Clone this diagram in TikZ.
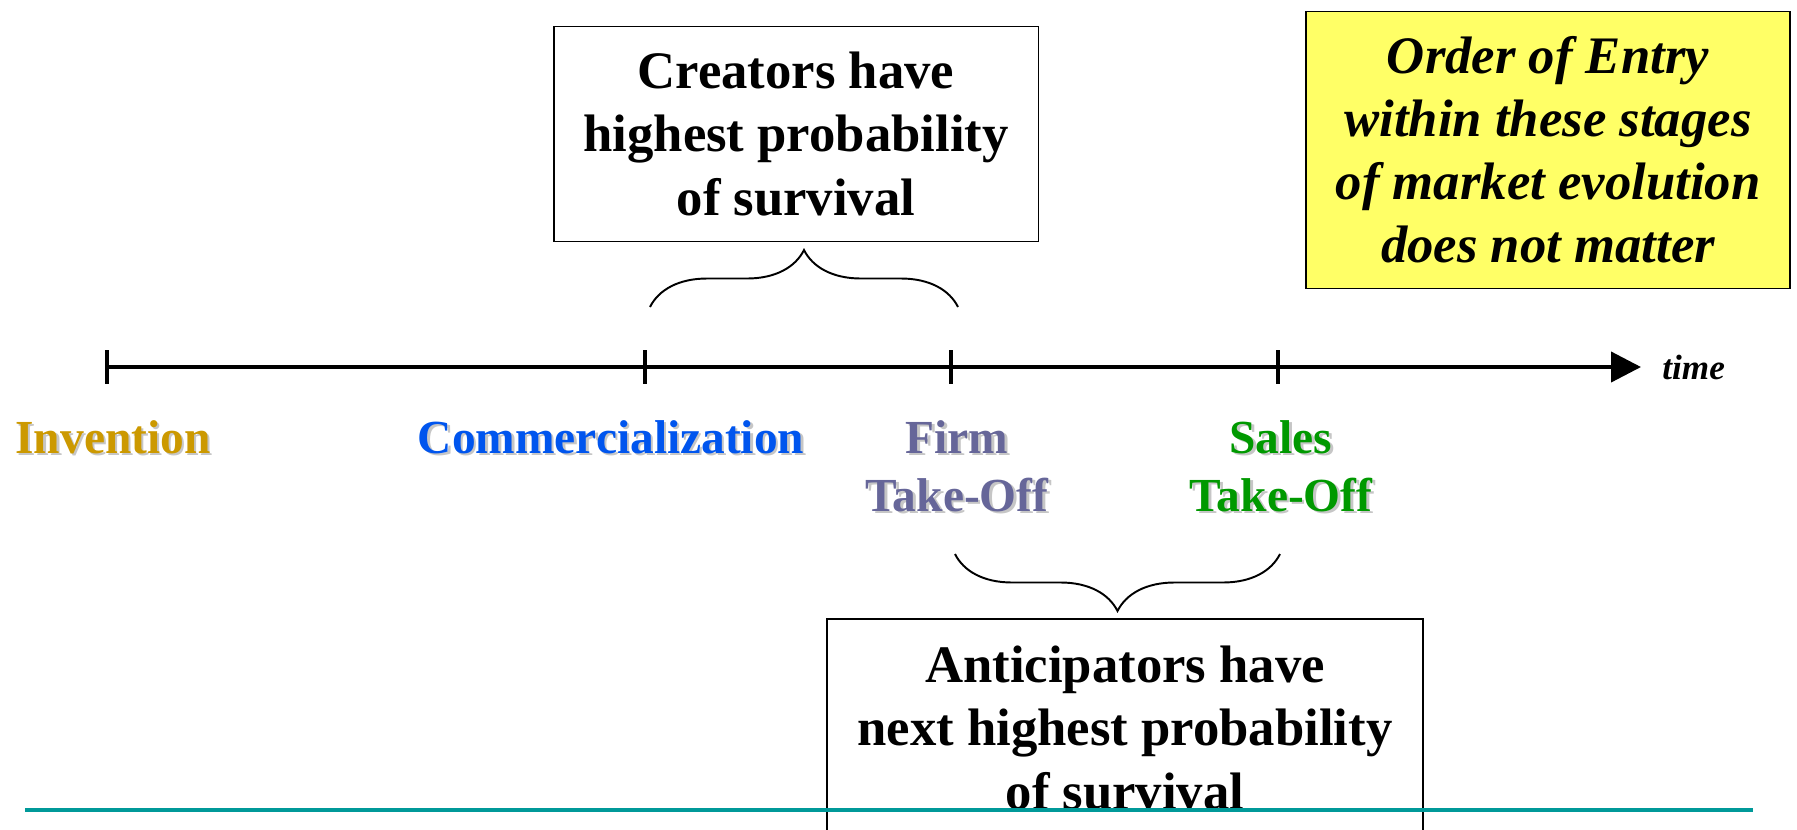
\documentclass[tikz,border=0pt]{standalone}
\usepackage{fontspec}
\setmainfont{Liberation Serif}
\usepackage{xcolor}
\usepackage{tikz}
\usetikzlibrary{positioning}
\usetikzlibrary{arrows.meta}
\usetikzlibrary{decorations.pathreplacing}
\definecolor{invgold}{RGB}{204,153,0}
\definecolor{comblue}{RGB}{0,85,238}
\definecolor{firmgray}{RGB}{102,102,153}
\definecolor{salesgreen}{RGB}{0,153,0}
\definecolor{ruleteal}{RGB}{0,153,153}
\definecolor{noteyellow}{RGB}{255,255,102}
% stage label with a soft grey shadow: name, position, colour, text
\newcommand{\stagelabel}[4]{%
	\node[stage, text=gray!45, shift={(2.5,2.5)}] (#1_sh) at (#2) {#4};
	\node[stage, text=#3] (#1) at (#2) {#4};}

\begin{document}
\begin{tikzpicture}[x=0.02cm, y=-0.02cm,
		stage/.style={font=\fontsize{27}{33}\selectfont\bfseries, align=center, inner sep=0},
		textbox/.style={draw, line width=1.1pt, font=\fontsize{30}{36.4}\selectfont\bfseries, align=center, inner sep=0},
		bracket/.style={decorate, decoration={brace, amplitude=1.14cm}, line width=1.1pt}]
		\useasboundingbox (0,0) rectangle (1797,829);
		\clip (0,0) rectangle (1797,829);

		% Time axis with the four stages
		\coordinate (tstart) at (107,367);
		\coordinate (tend) at (1641,367);
		\draw[line width=2.3pt, -{Triangle[length=0.6cm, width=0.6cm]}] (tstart) -- (tend);
		\node[right=0.42cm of tend, inner sep=0, font=\fontsize{20}{24}\selectfont\bfseries\itshape] (timelbl) {time};
		\foreach \x/\name in {107/inv, 645/com, 951/firm, 1278/sales}
			\draw[line width=2.3pt] (\x,350) coordinate (\name_top) -- (\x,384) coordinate (\name_bot);

		\stagelabel{inv_lbl}{113,437}{invgold}{Invention}
		\stagelabel{com_lbl}{611,437}{comblue}{Commercialization}
		\stagelabel{firm_lbl}{957,466}{firmgray}{Firm\\Take-Off}
		\stagelabel{sales_lbl}{1281,466}{salesgreen}{Sales\\Take-Off}

		% Creators: commercialization to firm take-off
		\node[textbox, minimum width=9.7cm, minimum height=4.3cm] (creators) at (796,134) {Creators have\\highest probability\\of survival};
		\coordinate (cbl) at (650,307);
		\coordinate (cbr) at (958,307);
		\draw[bracket] (cbl) -- (cbr);

		% Anticipators: firm take-off to sales take-off
		\coordinate (abl) at (955,554);
		\coordinate (abr) at (1280,554);
		\draw[bracket] (abr) -- (abl);
		\node[textbox, minimum width=11.92cm, minimum height=4.36cm] (anticip) at (1125,728) {Anticipators have\\next highest probability\\of survival};

		% Note on order of entry
		\node[textbox, fill=noteyellow, font=\fontsize{30}{35.8}\selectfont\bfseries\itshape, minimum width=9.68cm, minimum height=5.54cm] (order) at (1548,150) {Order of Entry\\within these stages\\of market evolution\\does not matter};

		% Slide rule
		\coordinate (rl) at (25,810);
		\coordinate (rr) at (1753,810);
		\draw[ruleteal, line width=2.3pt] (rl) -- (rr);
	\end{tikzpicture}
\end{document}
